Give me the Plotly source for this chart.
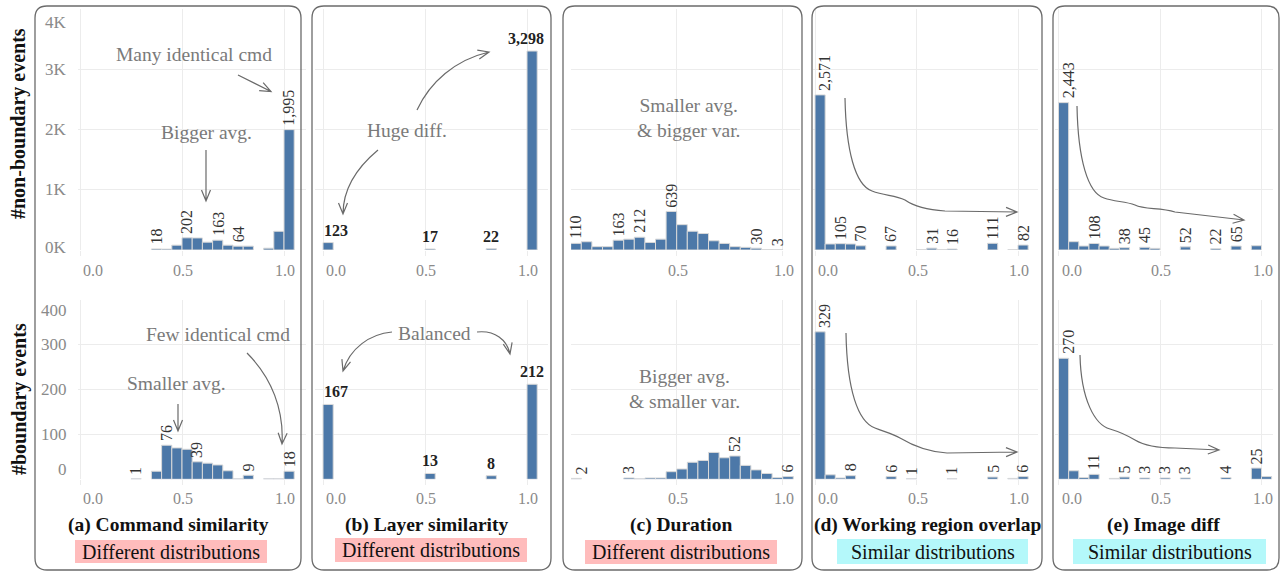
import plotly.graph_objects as go

W, H = 1281, 572
SERIF = "'Liberation Serif', 'Times New Roman', Times, serif"

# ---------------- data ----------------
bin_starts = [0.0, 0.05, 0.1, 0.15, 0.2, 0.25, 0.3, 0.35, 0.4, 0.45, 0.5,
              0.55, 0.6, 0.65, 0.7, 0.75, 0.8, 0.85, 0.9, 0.95, 1.0]
BIN_W = 0.05

panel_titles = ["(a) Command similarity", "(b) Layer similarity", "(c) Duration",
                "(d) Working region overlap", "(e) Image diff"]
verdicts = ["Different distributions", "Different distributions", "Different distributions",
            "Similar distributions", "Similar distributions"]
row_titles = ["#non-boundary events", "#boundary events"]

# non-boundary (top row) counts per bin
cmd_nonb = [0, 0, 0, 0, 0, 0, 0, 18, 15, 80, 202, 200, 130, 163, 80, 64, 64, 0, 30, 310, 1995]
layer_nonb = [123, 0, 0, 0, 0, 0, 0, 0, 0, 0, 17, 0, 0, 0, 0, 0, 22, 0, 0, 0, 3298]
dur_nonb = [110, 137, 55, 55, 163, 180, 212, 125, 180, 639, 420, 311, 273, 153, 109, 55, 44, 30, 5, 3, 0]
region_nonb = [2571, 100, 105, 100, 70, 0, 0, 67, 0, 0, 3, 31, 5, 16, 0, 0, 0, 111, 0, 3, 82]
img_nonb = [2443, 138, 66, 108, 66, 27, 38, 0, 45, 27, 0, 0, 52, 0, 0, 22, 0, 65, 0, 71, 0]

# boundary (bottom row) counts per bin
cmd_b = [0, 0, 0, 0, 0, 1, 0, 18, 76, 70, 67, 39, 36, 32, 19, 1, 9, 0, 1, 1, 18]
layer_b = [167, 0, 0, 0, 0, 0, 0, 0, 0, 0, 13, 0, 0, 0, 0, 0, 8, 0, 0, 0, 212]
dur_b = [2, 0, 0, 0, 0, 3, 1, 3, 3, 17, 23, 38, 42, 60, 48, 52, 31, 21, 13, 4, 6]
region_b = [329, 10, 3, 8, 0, 0, 0, 6, 0, 1, 0, 0, 0, 1, 0, 0, 0, 5, 0, 2, 6]
img_b = [270, 19, 4, 11, 0, 2, 5, 0, 3, 0, 3, 0, 3, 0, 0, 0, 4, 0, 0, 25, 6]

# value labels: (bin index, text)
cmd_nonb_lbl = [(7, "18"), (10, "202"), (13, "163"), (15, "64"), (20, "1,995")]
layer_nonb_lbl = [(0, "123"), (10, "17"), (16, "22"), (20, "3,298")]
dur_nonb_lbl = [(0, "110"), (4, "163"), (6, "212"), (9, "639"), (17, "30"), (19, "3")]
region_nonb_lbl = [(0, "2,571"), (2, "105"), (4, "70"), (7, "67"), (11, "31"), (13, "16"), (17, "111"), (20, "82")]
img_nonb_lbl = [(0, "2,443"), (3, "108"), (6, "38"), (8, "45"), (12, "52"), (15, "22"), (17, "65")]

cmd_b_lbl = [(5, "1"), (8, "76"), (11, "39"), (16, "9"), (20, "18")]
layer_b_lbl = [(0, "167"), (10, "13"), (16, "8"), (20, "212")]
dur_b_lbl = [(0, "2"), (5, "3"), (15, "52"), (20, "6")]
region_b_lbl = [(0, "329"), (3, "8"), (7, "6"), (9, "1"), (13, "1"), (17, "5"), (20, "6")]
img_b_lbl = [(0, "270"), (3, "11"), (6, "5"), (8, "3"), (10, "3"), (12, "3"), (16, "4"), (19, "25")]

x_tick_vals = [0.0, 0.5, 1.0]
x_tick_text = ["0.0", "0.5", "1.0"]
top_tick_vals = [0, 1000, 2000, 3000, 4000]
top_tick_text = ["0K", "1K", "2K", "3K", "4K"]
bot_tick_vals = [0, 100, 200, 300, 400]
bot_tick_text = ["0", "100", "200", "300", "400"]

top_counts = [cmd_nonb, layer_nonb, dur_nonb, region_nonb, img_nonb]
bot_counts = [cmd_b, layer_b, dur_b, region_b, img_b]
top_labels = [cmd_nonb_lbl, layer_nonb_lbl, dur_nonb_lbl, region_nonb_lbl, img_nonb_lbl]
bot_labels = [cmd_b_lbl, layer_b_lbl, dur_b_lbl, region_b_lbl, img_b_lbl]

# ---------------- geometry (pixels) ----------------
cols = [(80.0, 204.0, 78, 306), (323.0, 204.0, 315, 548), (570.7, 212.0, 571, 800),
        (815.0, 203.0, 813, 1038), (1058.5, 203.0, 1055, 1273)]
rows = [(8.7, 250.0, 4000), (300.0, 479.3, 400)]
boxes = [(35, 6, 301, 570), (312, 6, 551, 570), (563, 6, 802, 570), (812, 6, 1042, 570), (1053, 6, 1279, 570)]
caption_x = [168, 426, 681, 927, 1163]
verdict_box = [(75, 540, 267, 563), (335, 538, 527, 562), (585, 540, 777, 564),
               (837, 539, 1028, 564), (1073, 539, 1266, 564)]
verdict_col = ["#ffbcbc", "#ffbcbc", "#ffbcbc", "#b4f8fa", "#b4f8fa"]


def px(x):
    return x / W


def py(y):
    return 1 - y / H


BAR = "#4c78a8"
GRID = "#ececec"
TICKC = "#8a8a8a"
NOTE = "#7a7a7a"
ARROW = "#6a6a6a"

fig = go.Figure()
annotations = []
shapes = []

centers = [s + BIN_W / 2 for s in bin_starts]

for r, (ytop, ybot, ymax) in enumerate(rows):
    counts_row = top_counts if r == 0 else bot_counts
    labels_row = top_labels if r == 0 else bot_labels
    for c, (x0, scale, left, right) in enumerate(cols):
        n = r * 5 + c + 1
        xa = "x" if n == 1 else f"x{n}"
        ya = "y" if n == 1 else f"y{n}"
        counts = counts_row[c]
        fig.add_trace(go.Bar(
            x=centers, y=[v if v > 0 else None for v in counts], width=BIN_W,
            marker=dict(color=BAR, line=dict(color="#d9d9d9", width=1)),
            xaxis=xa, yaxis=ya, showlegend=False, hoverinfo="skip"))
        xr = [(left - x0) / scale, (right - x0) / scale]
        fig.layout[("xaxis" if n == 1 else f"xaxis{n}")] = dict(
            domain=[px(left), px(right)], range=xr, anchor=ya,
            tickvals=x_tick_vals, showticklabels=False, showgrid=True, gridcolor=GRID,
            gridwidth=1, zeroline=False, showline=False, ticks="outside", ticklen=5,
            tickcolor=GRID, fixedrange=True)
        fig.layout[("yaxis" if n == 1 else f"yaxis{n}")] = dict(
            domain=[py(ybot), py(ytop)], range=[0, ymax], anchor=xa,
            tickvals=top_tick_vals if r == 0 else bot_tick_vals, showticklabels=False,
            showgrid=True, gridcolor=GRID, gridwidth=1, zeroline=False, showline=False,
            fixedrange=True)
        ylab = 270 if r == 0 else 498
        for v, t in zip(x_tick_vals, x_tick_text):
            annotations.append(dict(
                x=v, xref=xa, y=py(ylab), yref="paper", text=t, showarrow=False,
                xanchor="left" if v == 0 else "center", yanchor="middle",
                xshift=1, font=dict(family=SERIF, size=16, color=TICKC)))
        horiz = (c == 1)
        for idx, t in labels_row[c]:
            val = counts[idx]
            if horiz:
                if idx == 0:
                    ax, anc, sh = bin_starts[idx], "left", 0
                elif idx == len(bin_starts) - 1:
                    ax, anc, sh = bin_starts[idx] + BIN_W, "right", 8
                else:
                    ax, anc, sh = centers[idx], "center", 0
                annotations.append(dict(
                    x=ax, xref=xa, y=val, yref=ya, text=f"<b>{t}</b>", showarrow=False,
                    xanchor=anc, yanchor="bottom", xshift=sh, yshift=3,
                    font=dict(family=SERIF, size=16, color="#222"), borderpad=0))
            else:
                sh = 5 if (idx == 0 and not (r == 0 and c == 2)) else 0
                annotations.append(dict(
                    x=centers[idx], xref=xa, y=val, yref=ya, text=t, showarrow=False,
                    textangle=-90, xanchor="center", yanchor="bottom", yshift=3, xshift=sh,
                    font=dict(family=SERIF, size=16, color="#333"), borderpad=0))

for r, (vals, texts, n) in enumerate([(top_tick_vals, top_tick_text, 1), (bot_tick_vals, bot_tick_text, 6)]):
    ya = "y" if n == 1 else f"y{n}"
    for i, (v, t) in enumerate(zip(vals, texts)):
        if i == 0:
            sh = 3 if r == 0 else 10
        elif i == len(vals) - 1:
            sh = -14 if r == 0 else -10
        else:
            sh = 0
        annotations.append(dict(
            x=px(69), xref="paper", y=v, yref=ya, text=t, showarrow=False,
            xanchor="right", yanchor="middle", yshift=sh,
            font=dict(family=SERIF, size=17, color=TICKC)))

for t, yc in zip(row_titles, [124, 399]):
    annotations.append(dict(
        x=px(19), y=py(yc), xref="paper", yref="paper", text=f"<b>{t}</b>", showarrow=False,
        textangle=-90, xanchor="center", yanchor="middle",
        font=dict(family=SERIF, size=20, color="#111")))

for c in range(5):
    annotations.append(dict(
        x=px(caption_x[c]), y=py(525), xref="paper", yref="paper",
        text=f"<b>{panel_titles[c]}</b>", showarrow=False, xanchor="center", yanchor="middle",
        font=dict(family=SERIF, size=19.5, color="#111")))
    bx0, by0, bx1, by1 = verdict_box[c]
    shapes.append(dict(type="rect", xref="paper", yref="paper", x0=px(bx0), x1=px(bx1),
                       y0=py(by1), y1=py(by0), fillcolor=verdict_col[c], line=dict(width=0),
                       layer="below"))
    annotations.append(dict(
        x=px((bx0 + bx1) / 2), y=py((by0 + by1) / 2), xref="paper", yref="paper",
        text=verdicts[c], showarrow=False, xanchor="center", yanchor="middle",
        font=dict(family=SERIF, size=20, color="#111")))


def rrect(x0, y0, x1, y1, rad=12):
    def P(x, y):
        return f"{px(x):.5f},{py(y):.5f}"
    pts = [f"M {P(x0 + rad, y0)}", f"L {P(x1 - rad, y0)}", f"Q {P(x1, y0)} {P(x1, y0 + rad)}",
           f"L {P(x1, y1 - rad)}", f"Q {P(x1, y1)} {P(x1 - rad, y1)}", f"L {P(x0 + rad, y1)}",
           f"Q {P(x0, y1)} {P(x0, y1 - rad)}", f"L {P(x0, y0 + rad)}",
           f"Q {P(x0, y0)} {P(x0 + rad, y0)} Z"]
    return " ".join(pts)


for b in boxes:
    shapes.append(dict(type="path", xref="paper", yref="paper", path=rrect(*b),
                       line=dict(color="#6b6b6b", width=1.3), layer="above"))


def arrow_path(start, segs, head=11, half=4.5):
    def P(p):
        return f"{px(p[0]):.5f},{py(p[1]):.5f}"
    d = [f"M {P(start)}"]
    prev = start
    last_dir_from = start
    for s in segs:
        if s[0] == "C":
            d.append(f"C {P(s[1])} {P(s[2])} {P(s[3])}")
            last_dir_from, prev = s[2], s[3]
        else:
            d.append(f"L {P(s[1])}")
            last_dir_from, prev = prev, s[1]
    tip = prev
    dx, dy = tip[0] - last_dir_from[0], tip[1] - last_dir_from[1]
    ln = (dx * dx + dy * dy) ** 0.5
    ux, uy = dx / ln, dy / ln
    bx, by = tip[0] - ux * head, tip[1] - uy * head
    w1 = (bx - uy * half, by + ux * half)
    w2 = (bx + uy * half, by - ux * half)
    d.append(f"M {P(w1)} L {P(tip)} L {P(w2)}")
    return " ".join(d)


arrows = [
    ((238, 75), [("L", (271, 91.5))]),
    ((206, 150), [("L", (206, 201))]),
    ((247, 353), [("C", (272, 378), (284, 410), (282, 444))]),
    ((178, 404), [("L", (178, 431))]),
    ((417, 110), [("C", (430, 82), (455, 60), (489, 52))]),
    ((378, 150), [("C", (360, 165), (343, 185), (343, 214))]),
    ((392, 332), [("C", (370, 334), (350, 348), (343, 371))]),
    ((477, 332), [("C", (495, 330), (507, 340), (510, 354))]),
    ((845, 98), [("C", (846, 150), (855, 185), (872, 191)), ("C", (885, 196), (895, 195), (905, 200)),
                 ("C", (915, 207), (930, 210), (945, 211)), ("L", (1017, 212))]),
    ((846, 333), [("C", (847, 390), (858, 422), (875, 428)), ("C", (885, 432), (893, 434), (900, 438)),
                  ("C", (915, 447), (930, 452), (947, 453)), ("L", (1017, 452))]),
    ((1077, 106), [("C", (1078, 160), (1088, 193), (1104, 198)), ("C", (1115, 202), (1125, 201), (1135, 205)),
                   ("C", (1145, 210), (1160, 207), (1175, 212)), ("L", (1244, 220))]),
    ((1080, 355), [("C", (1081, 400), (1095, 425), (1110, 429)), ("C", (1120, 432), (1125, 434), (1135, 440)),
                   ("C", (1145, 446), (1160, 448), (1175, 448)), ("L", (1219, 450))]),
]
for st, segs in arrows:
    shapes.append(dict(type="path", xref="paper", yref="paper", path=arrow_path(st, segs),
                       line=dict(color=ARROW, width=1.2), layer="above"))

notes = [
    ("Many identical cmd", 194, 55),
    ("Bigger avg.", 206, 132),
    ("Few identical cmd", 218, 334),
    ("Smaller avg.", 177, 383),
    ("Huge diff.", 407, 130),
    ("Balanced", 434, 333),
    ("Smaller avg.<br>& bigger var.", 688, 118),
    ("Bigger avg.<br>& smaller var.", 684, 389),
]
for t, x, y in notes:
    annotations.append(dict(
        x=px(x), y=py(y), xref="paper", yref="paper", text=t, showarrow=False,
        xanchor="center", yanchor="middle",
        font=dict(family=SERIF, size=19.5, color=NOTE)))

fig.update_layout(
    width=W, height=H, autosize=False,
    margin=dict(l=0, r=0, t=0, b=0),
    paper_bgcolor="white", plot_bgcolor="white",
    font=dict(family=SERIF),
    annotations=annotations, shapes=shapes,
    barmode="overlay", showlegend=False,
)

fig.write_html("out.html", config={"displayModeBar": False, "staticPlot": True},
               post_script="document.body.style.margin='0';document.body.style.overflow='hidden';")
